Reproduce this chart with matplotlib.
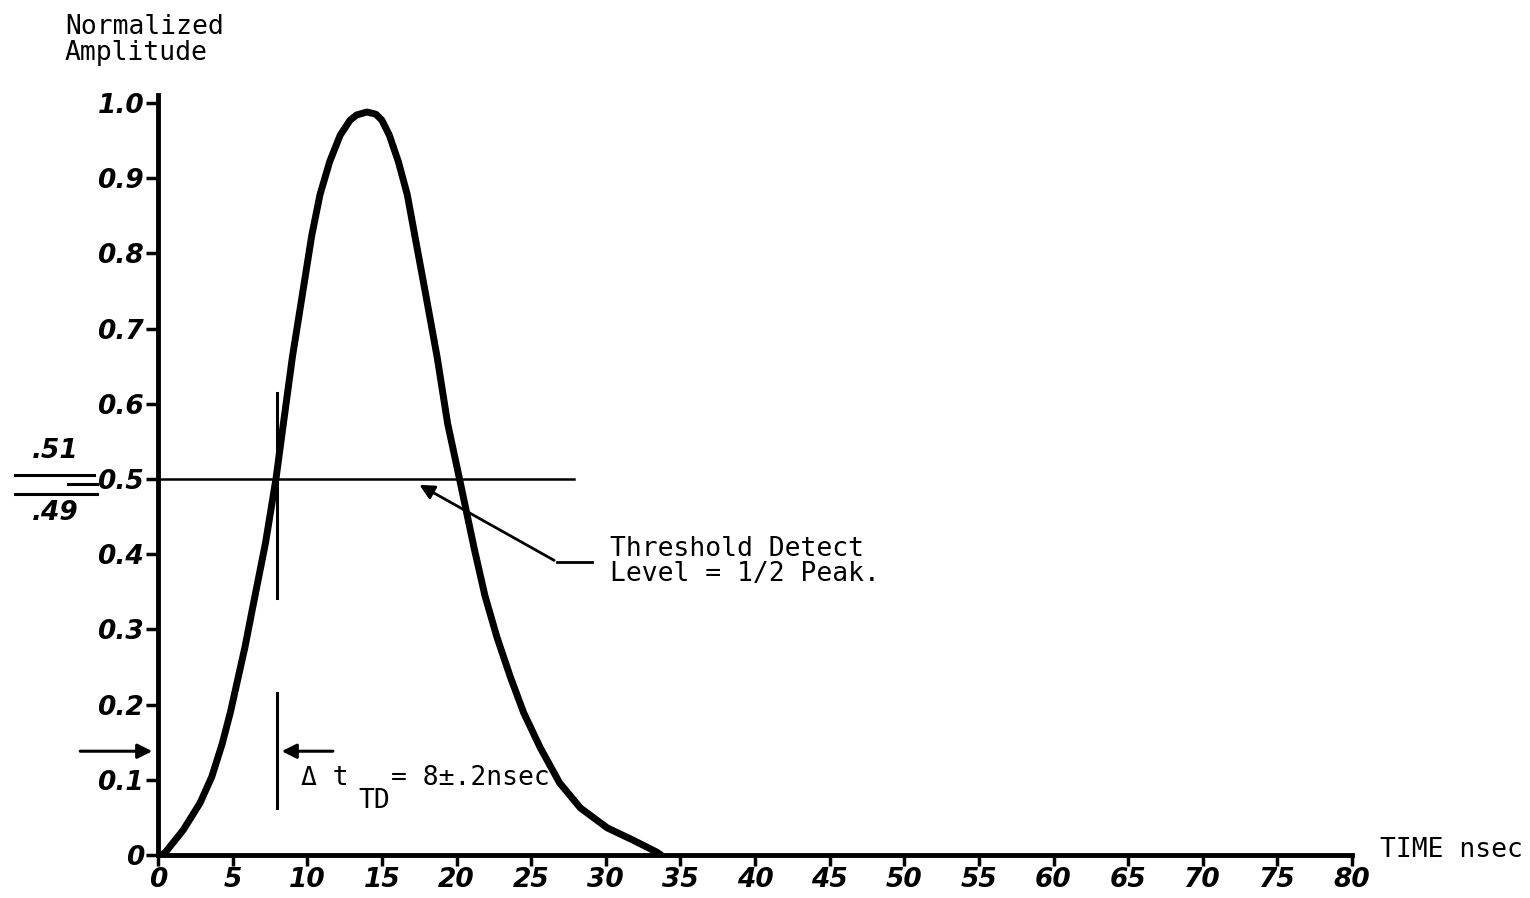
import matplotlib
matplotlib.use('Agg')
import matplotlib.pyplot as plt

# pulse shape (time in nsec, normalized amplitude)
time_ns = [0.2, 0.47, 1.68, 2.81, 3.6, 4.3, 4.85, 5.3, 5.83, 6.3, 7.2, 7.9, 8.4, 9.0, 9.7,
           10.3, 10.85, 11.5, 12.2, 12.86, 13.3, 14.0, 14.6, 15.0, 15.5, 16.1, 16.7, 17.2,
           17.9, 18.7, 19.4, 20.2, 21.2, 21.9, 22.7, 23.6, 24.5, 25.6, 26.9, 28.3, 30.1,
           31.8, 33.4, 33.7]
amplitude = [0.0, 0.003, 0.033, 0.069, 0.104, 0.148, 0.19, 0.23, 0.277, 0.325, 0.415, 0.5,
             0.574, 0.662, 0.749, 0.824, 0.878, 0.922, 0.957, 0.977, 0.984, 0.988, 0.985,
             0.977, 0.957, 0.922, 0.878, 0.824, 0.749, 0.662, 0.574, 0.5, 0.406, 0.345, 0.29,
             0.237, 0.189, 0.143, 0.096, 0.0625, 0.036, 0.02, 0.004, 0.0]

x_ticks = list(range(0, 85, 5))
x_labels = [str(v) for v in x_ticks]
y_ticks = [0, 0.1, 0.2, 0.3, 0.4, 0.5, 0.6, 0.7, 0.8, 0.9, 1.0]
y_labels = ['0', '0.1', '0.2', '0.3', '0.4', '0.5', '0.6', '0.7', '0.8', '0.9', '1.0']

threshold = 0.5
detect_time = 8.0

mono = 'DejaVu Sans Mono'
tick_font = dict(family='DejaVu Sans', weight='bold', style='italic', size=19)

fig = plt.figure(figsize=(15.3, 8.98), dpi=100)
ax = fig.add_axes([0.1033, 0.0479, 0.7804, 0.8458])

# the pulse
ax.plot(time_ns, amplitude, color='black', linewidth=5, solid_capstyle='round',
        solid_joinstyle='round', zorder=3)

# threshold level line
ax.plot([0, 27.9], [threshold, threshold], color='black', linewidth=1.8)

# vertical marks at detect time
ax.plot([detect_time, detect_time], [0.342, 0.614], color='black', linewidth=2.2)
ax.plot([detect_time, detect_time], [0.0625, 0.215], color='black', linewidth=2.2)

# delta t arrow
ax.annotate('', xy=(detect_time + 0.1, 0.138), xytext=(11.9, 0.138),
            arrowprops=dict(arrowstyle='-|>', color='black', lw=2.2, mutation_scale=22))
# arrow from outside the axis
ax.annotate('', xy=(-0.2, 0.138), xytext=(-5.4, 0.138), annotation_clip=False,
            arrowprops=dict(arrowstyle='-|>', color='black', lw=2.2, mutation_scale=22))

ax.text(9.6, 0.102, '\u0394 t', family=mono, fontsize=19, va='center', ha='left')
ax.text(13.4, 0.072, 'TD', family=mono, fontsize=19, va='center', ha='left')
ax.text(15.6, 0.102, '= 8\u00b1.2nsec', family=mono, fontsize=19, va='center', ha='left')

# threshold callout
ax.plot([26.7, 29.1], [0.39, 0.39], color='black', linewidth=2)
ax.annotate('', xy=(17.35, 0.494), xytext=(26.7, 0.39),
            arrowprops=dict(arrowstyle='-|>', color='black', lw=2, mutation_scale=22))
ax.text(30.3, 0.39, 'Threshold Detect\nLevel = 1/2 Peak.', family=mono, fontsize=19,
        va='center', ha='left', linespacing=0.95)

# .51 / .49 tolerance marks left of the axis
ax.plot([-9.6, -4.3], [0.505, 0.505], color='black', linewidth=2.2, clip_on=False)
ax.plot([-6.0, -4.1], [0.493, 0.493], color='black', linewidth=2.2, clip_on=False)
ax.plot([-9.6, -4.1], [0.48, 0.48], color='black', linewidth=2.2, clip_on=False)
ax.text(-6.9, 0.52, '.51', fontdict=tick_font, ha='center', va='bottom', clip_on=False)
ax.text(-6.9, 0.472, '.49', fontdict=tick_font, ha='center', va='top', clip_on=False)

ax.set_xlim(0, 80)
ax.set_ylim(0, 1.01)
ax.set_xticks(x_ticks)
ax.set_xticklabels(x_labels, fontdict=tick_font)
ax.set_yticks(y_ticks)
ax.set_yticklabels(y_labels, fontdict=tick_font)
ax.tick_params(axis='x', direction='out', length=8, width=2.5, pad=1)
ax.tick_params(axis='y', direction='out', length=9, width=2.5, pad=1)

for side in ['top', 'right']:
    ax.spines[side].set_visible(False)
for side in ['left', 'bottom']:
    ax.spines[side].set_linewidth(3.5)

fig.text(65 / 1530, 1 - 40 / 898, 'Normalized\nAmplitude', family=mono, fontsize=19,
         ha='left', va='center', linespacing=1.0)
fig.text(1380 / 1530, 1 - 850 / 898, 'TIME nsec', family=mono, fontsize=19,
         ha='left', va='center')

fig.savefig('out.png', dpi=100, facecolor='white')
